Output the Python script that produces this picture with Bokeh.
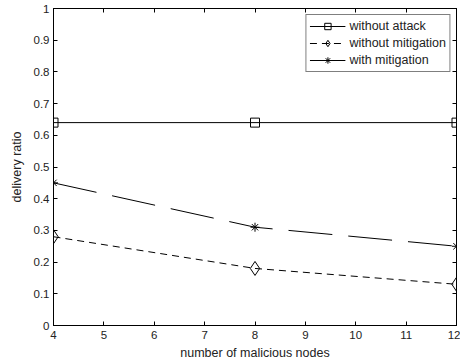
from bokeh.plotting import figure
from bokeh.models import Range1d, LinearAxis, FixedTicker, Legend, LegendItem
from bokeh.embed import file_html
from bokeh.resources import INLINE

nodes = [4, 8, 12]
without_attack = [0.64, 0.64, 0.64]
without_mitigation = [0.28, 0.18, 0.13]
with_mitigation = [0.45, 0.31, 0.25]
x_ticks = [4, 5, 6, 7, 8, 9, 10, 11, 12]
y_ticks = [0, 0.1, 0.2, 0.3, 0.4, 0.5, 0.6, 0.7, 0.8, 0.9, 1]

FONT = "Liberation Sans"

p = figure(width=460, height=362, output_backend="svg", toolbar_location=None,
           x_range=Range1d(4, 12), y_range=Range1d(0, 1),
           min_border_left=53, min_border_right=4, min_border_top=8, min_border_bottom=36)
p.xgrid.visible = False
p.ygrid.visible = False
p.outline_line_color = "black"
p.outline_line_width = 1

for ax in p.xaxis + p.yaxis:
    ax.major_tick_in = 4
    ax.major_tick_out = 0
    ax.minor_tick_line_color = None
    ax.axis_line_color = "black"
    ax.major_label_text_font = FONT
    ax.major_label_text_font_size = "11.5px"
    ax.major_label_text_color = "#222222"
    ax.axis_label_text_font = FONT
    ax.axis_label_text_font_size = "12.5px"
    ax.axis_label_text_font_style = "normal"
    ax.axis_label_text_color = "#222222"

p.xaxis.major_label_standoff = 5
p.xaxis.axis_label_standoff = 4
p.yaxis.major_label_standoff = 4
p.yaxis.axis_label_standoff = 7

p.xaxis.ticker = FixedTicker(ticks=x_ticks)
p.yaxis.ticker = FixedTicker(ticks=y_ticks)
p.yaxis.major_label_overrides = {0: "0", 1: "1"}
p.xaxis.axis_label = "number of malicious nodes"
p.yaxis.axis_label = "delivery ratio"

top = LinearAxis(ticker=FixedTicker(ticks=x_ticks),
                 major_label_overrides={t: "" for t in x_ticks},
                 major_tick_in=4, major_tick_out=0, minor_tick_line_color=None,
                 major_label_standoff=0)
right = LinearAxis(ticker=FixedTicker(ticks=y_ticks),
                   major_label_overrides={t: "" for t in y_ticks},
                   major_tick_in=4, major_tick_out=0, minor_tick_line_color=None,
                   major_label_standoff=0)
p.add_layout(top, "above")
p.add_layout(right, "right")

l1 = p.line(nodes, without_attack, line_color="black", line_width=1)
m1 = p.scatter(nodes, without_attack, marker="square", size=9, fill_color=None, line_color="black")
l2 = p.line(nodes, without_mitigation, line_color="black", line_width=1, line_dash="7 5")
m2 = p.scatter(nodes, without_mitigation, marker="diamond", size=14, fill_color=None, line_color="black")
l3 = p.line(nodes, with_mitigation, line_color="black", line_width=1, line_dash="44 16")
m3 = p.scatter(nodes, with_mitigation, marker="asterisk", size=9, line_color="black")

legend = Legend(items=[
    LegendItem(label="without attack", renderers=[l1, m1]),
    LegendItem(label="without mitigation", renderers=[l2, m2]),
    LegendItem(label="with mitigation", renderers=[l3, m3]),
], location="top_right")
legend.border_line_color = "black"
legend.border_line_width = 1
legend.label_text_font = FONT
legend.label_text_font_size = "12.5px"
legend.label_text_color = "#222222"
legend.glyph_width = 36
legend.glyph_height = 16
legend.label_height = 16
legend.label_standoff = 4
legend.spacing = 1
legend.padding = 3
legend.margin = 6
p.add_layout(legend, "center")

open("out.html", "w").write(file_html(p, INLINE))
